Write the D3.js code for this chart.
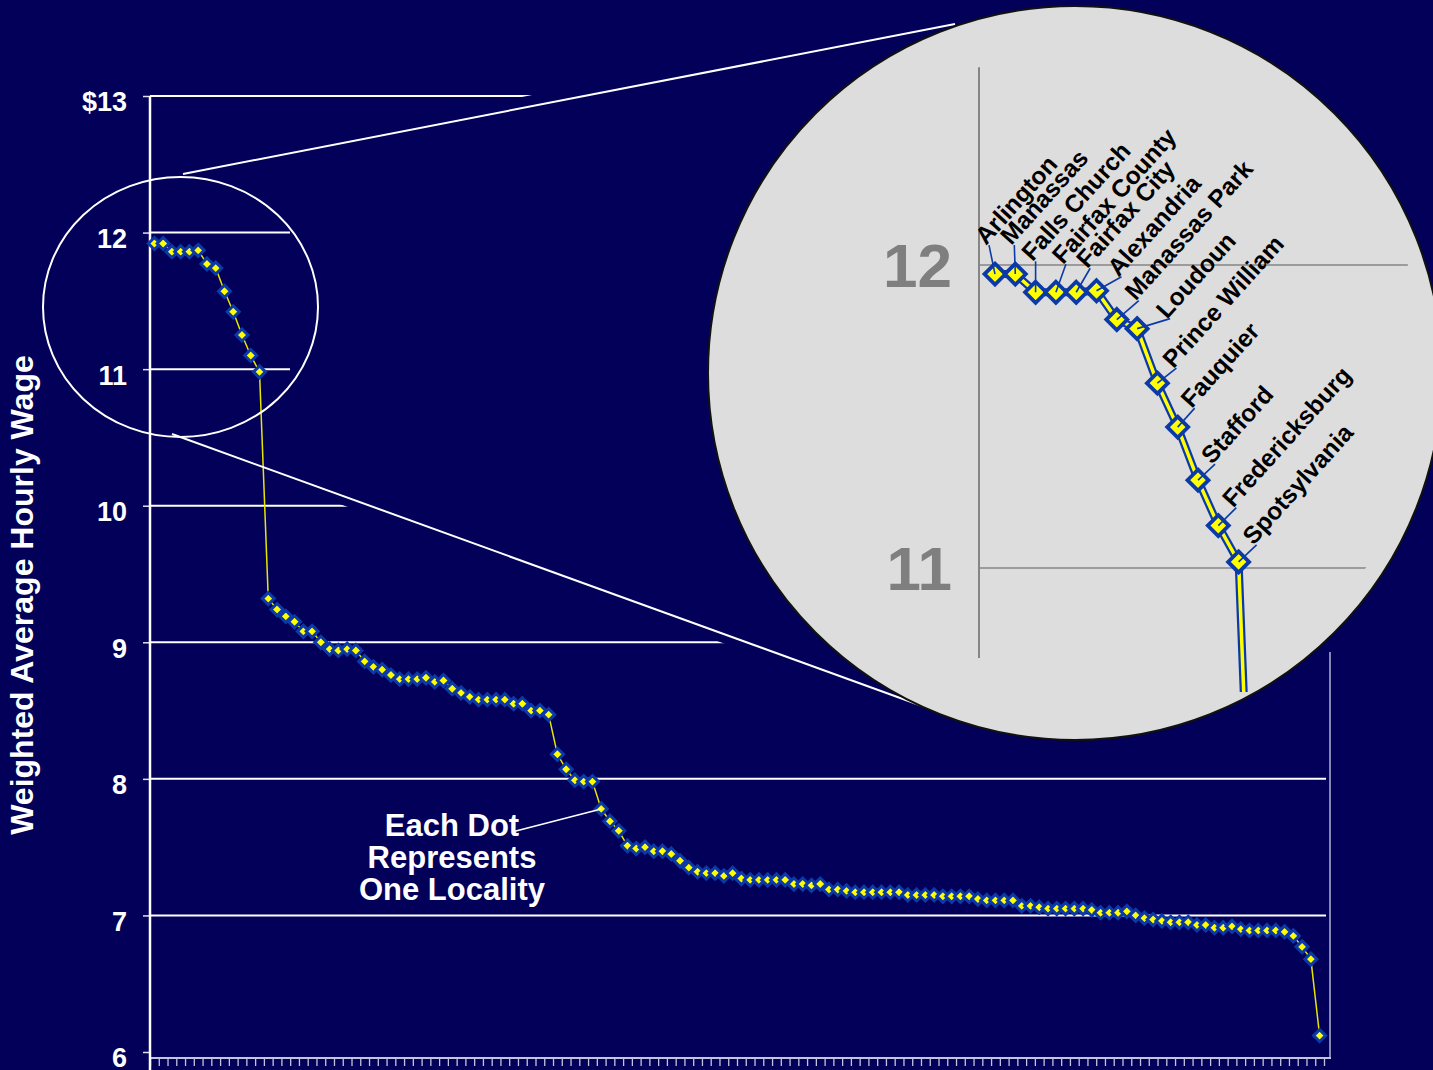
<!DOCTYPE html>
<html>
<head>
<meta charset="utf-8">
<script src="https://cdn.jsdelivr.net/npm/d3@7"></script>
<style>
  html, body { margin: 0; padding: 0; background: #020058; }
  svg { display: block; }
  text { font-family: "Liberation Sans", Arial, Helvetica, sans-serif; font-weight: bold; }
</style>
</head>
<body>
<svg id="chart"></svg>
<script>
// weighted average hourly wage, one value per locality, sorted high to low
const wages = [
  11.92, 11.92, 11.86, 11.86, 11.86, 11.87, 11.77, 11.74, 11.57, 11.42,
  11.25, 11.10, 10.98, 9.32, 9.24, 9.19, 9.15, 9.08, 9.08, 9.00,
  8.95, 8.94, 8.95, 8.94, 8.86, 8.82, 8.80, 8.76, 8.73, 8.73,
  8.73, 8.74, 8.71, 8.72, 8.66, 8.63, 8.60, 8.58, 8.58, 8.58,
  8.58, 8.55, 8.55, 8.50, 8.50, 8.47, 8.18, 8.07, 7.99, 7.98,
  7.98, 7.78, 7.69, 7.62, 7.51, 7.49, 7.50, 7.47, 7.47, 7.45,
  7.40, 7.35, 7.32, 7.31, 7.31, 7.29, 7.31, 7.27, 7.26, 7.26,
  7.26, 7.26, 7.26, 7.23, 7.23, 7.22, 7.23, 7.19, 7.19, 7.18,
  7.17, 7.17, 7.17, 7.17, 7.17, 7.17, 7.15, 7.15, 7.15, 7.15,
  7.14, 7.14, 7.14, 7.14, 7.12, 7.11, 7.11, 7.11, 7.11, 7.07,
  7.07, 7.06, 7.05, 7.05, 7.05, 7.05, 7.05, 7.04, 7.02, 7.02,
  7.02, 7.03, 7.00, 6.98, 6.97, 6.96, 6.95, 6.95, 6.95, 6.93,
  6.93, 6.91, 6.91, 6.92, 6.90, 6.89, 6.89, 6.89, 6.89, 6.88,
  6.85, 6.77, 6.68, 6.12
];
const yTicks = [6, 7, 8, 9, 10, 11, 12, 13];

// magnified view of the top localities
const insetNames = ['Arlington', 'Manassas', 'Falls Church', 'Fairfax County', 'Fairfax City',
  'Alexandria', 'Manassas Park', 'Loudoun', 'Prince William', 'Fauquier', 'Stafford',
  'Fredericksburg', 'Spotsylvania'];
const insetWages = [11.97, 11.97, 11.91, 11.91, 11.91, 11.915, 11.82, 11.79, 11.61, 11.465,
  11.29, 11.14, 11.02];
const insetTicks = [11, 12];
// where each leader line ends, relative to its marker
const labelNudges = [[-6, -29], [-1, -29], [0, -31], [10, -28], [14, -24], [25, -14], [22, -19],
  [33, -10], [19, -15], [17, -19], [17, -16], [18, -18], [18, -17]];

const note = ['Each Dot', 'Represents', 'One Locality'];

const W = 1433, H = 1070;
const bg = '#020058';
const markBlue = '#0b3aa8';
const diamond = r => `M0,${-r}L${r},0L0,${r}L${-r},0Z`;

const svg = d3.select('#chart').attr('width', W).attr('height', H);
svg.append('rect').attr('width', W).attr('height', H).attr('fill', bg);

const x = d3.scaleBand().domain(d3.range(wages.length)).range([150, 1324]);
const xTicks = d3.scaleLinear().domain([0, wages.length]).range([150, 1324]);
const y = d3.scaleLinear().domain([6, 13]).range([1052, 96]);
const cx = i => x(i) + x.bandwidth() / 2;

// gridlines
svg.append('g').selectAll('line')
  .data(yTicks.filter(d => d > 6))
  .join('line')
  .attr('x1', 150).attr('x2', 1326)
  .attr('y1', d => y(d)).attr('y2', d => y(d))
  .attr('stroke', '#fff').attr('stroke-width', 2);

// right edge of plot area
svg.append('line')
  .attr('x1', 1330).attr('x2', 1330).attr('y1', y(13)).attr('y2', 1058)
  .attr('stroke', '#b4b4d4').attr('stroke-width', 1.5);

// background coloured wedge behind the zoom connectors
svg.append('path')
  .attr('d', 'M290,143L962,10L1433,0L1433,652L1320,652L910,711L290,486Z')
  .attr('fill', bg);

// category axis
const xAxis = svg.append('g')
  .attr('transform', 'translate(0,1058)')
  .call(d3.axisBottom(xTicks).tickValues(d3.range(wages.length + 1)).tickSize(8).tickSizeOuter(0).tickFormat(''));
xAxis.select('.domain').remove();
xAxis.selectAll('.tick line').attr('stroke', '#c4c4e0').attr('stroke-width', 1.3);
svg.append('line')
  .attr('x1', 150).attr('x2', 1331).attr('y1', 1058).attr('y2', 1058)
  .attr('stroke', '#c4c4e0').attr('stroke-width', 2);

// value axis
const yAxis = svg.append('g')
  .attr('transform', 'translate(150,0)')
  .call(d3.axisLeft(y).tickValues(yTicks).tickSize(7).tickSizeOuter(0).tickPadding(16)
    .tickFormat(d => d === 13 ? '$13' : d));
yAxis.select('.domain').remove();
yAxis.selectAll('.tick line').attr('stroke', '#e0e0f0').attr('stroke-width', 1.5);
yAxis.selectAll('.tick text')
  .attr('fill', '#fff').attr('font-size', 27).attr('dy', '0.55em');
svg.append('line')
  .attr('x1', 150).attr('x2', 150).attr('y1', y(13)).attr('y2', 1070)
  .attr('stroke', '#fff').attr('stroke-width', 2.5);

// data
const line = d3.line().x((d, i) => cx(i)).y(d => y(d));
svg.append('path').datum(wages)
  .attr('d', line)
  .attr('fill', 'none').attr('stroke', '#e6e600').attr('stroke-width', 1.5);

svg.append('g').selectAll('path')
  .data(wages)
  .join('path')
  .attr('transform', (d, i) => `translate(${cx(i)},${y(d)})`)
  .attr('d', diamond(6))
  .attr('fill', '#ffff00').attr('stroke', markBlue).attr('stroke-width', 3);

// annotation
svg.append('line')
  .attr('x1', 512).attr('y1', 832).attr('x2', cx(51)).attr('y2', y(wages[51]))
  .attr('stroke', '#fff').attr('stroke-width', 1.6);
svg.append('text')
  .attr('text-anchor', 'middle').attr('fill', '#fff').attr('font-size', 31)
  .selectAll('tspan')
  .data(note)
  .join('tspan')
  .attr('x', 452).attr('y', (d, i) => 836 + i * 32)
  .text(d => d);

svg.append('text')
  .attr('transform', 'translate(33,595) rotate(-90)')
  .attr('text-anchor', 'middle').attr('fill', '#fff').attr('font-size', 32)
  .text('Weighted Average Hourly Wage');

// zoom marker circle and connectors
svg.append('ellipse')
  .attr('cx', 180.5).attr('cy', 307).attr('rx', 137.5).attr('ry', 130)
  .attr('fill', 'none').attr('stroke', '#fff').attr('stroke-width', 2);
svg.append('line').attr('x1', 183).attr('y1', 174).attr('x2', 955).attr('y2', 24)
  .attr('stroke', '#fff').attr('stroke-width', 2);
svg.append('line').attr('x1', 172).attr('y1', 434).attr('x2', 925).attr('y2', 707)
  .attr('stroke', '#fff').attr('stroke-width', 2);

// magnified inset
const C = {x: 1075, y: 373, r: 367};
svg.append('circle')
  .attr('cx', C.x).attr('cy', C.y).attr('r', C.r)
  .attr('fill', '#dddddd').attr('stroke', '#111').attr('stroke-width', 2);

const defs = svg.append('defs');
defs.append('clipPath').attr('id', 'inset-clip')
  .append('circle').attr('cx', C.x).attr('cy', C.y).attr('r', 350);
defs.append('clipPath').attr('id', 'inset-data-clip')
  .append('rect').attr('x', 900).attr('y', 0).attr('width', 533).attr('height', 692);

const ix = d3.scalePoint().domain(d3.range(insetWages.length + 1)).range([995, 995 + 13 * 20.3]);
const iy = d3.scaleLinear().domain([11, 12]).range([568, 265]);
const inset = svg.append('g');

inset.append('g').attr('clip-path', 'url(#inset-clip)')
  .selectAll('line')
  .data(insetTicks)
  .join('line')
  .attr('x1', 979).attr('x2', 1433)
  .attr('y1', d => iy(d)).attr('y2', d => iy(d))
  .attr('stroke', '#858585').attr('stroke-width', 1.6);
inset.append('line')
  .attr('x1', 979).attr('x2', 979).attr('y1', iy(12.653)).attr('y2', iy(10.703))
  .attr('stroke', '#858585').attr('stroke-width', 2);
inset.selectAll('text.big')
  .data(insetTicks)
  .join('text')
  .attr('class', 'big')
  .attr('x', 952).attr('y', d => iy(d)).attr('dy', '0.35em')
  .attr('text-anchor', 'end').attr('fill', '#7f7f7f').attr('font-size', 62)
  .text(d => d);

// line runs on toward the next locality, cut off by the inset frame
const insetSeries = insetWages.concat([wages[insetWages.length]]);
const iline = d3.line().x((d, i) => ix(i)).y(d => iy(d));
const dataG = inset.append('g').attr('clip-path', 'url(#inset-data-clip)');
dataG.append('path').datum(insetSeries).attr('d', iline)
  .attr('fill', 'none').attr('stroke', markBlue).attr('stroke-width', 8);
dataG.append('path').datum(insetSeries).attr('d', iline)
  .attr('fill', 'none').attr('stroke', '#ffff00').attr('stroke-width', 3.5);

inset.append('g').selectAll('path')
  .data(insetWages)
  .join('path')
  .attr('transform', (d, i) => `translate(${ix(i)},${iy(d)})`)
  .attr('d', diamond(10.5))
  .attr('fill', '#ffff00').attr('stroke', markBlue).attr('stroke-width', 3.8);

inset.append('g').selectAll('line')
  .data(insetWages)
  .join('line')
  .attr('x1', (d, i) => ix(i)).attr('y1', d => iy(d))
  .attr('x2', (d, i) => ix(i) + labelNudges[i][0]).attr('y2', (d, i) => iy(d) + labelNudges[i][1])
  .attr('stroke', markBlue).attr('stroke-width', 1.6);

inset.append('g').selectAll('text')
  .data(insetWages)
  .join('text')
  .attr('transform', (d, i) =>
    `translate(${ix(i) + labelNudges[i][0] - 3},${iy(d) + labelNudges[i][1] + 1}) rotate(-48)`)
  .attr('fill', '#000').attr('font-size', 24.5)
  .text((d, i) => insetNames[i]);
</script>
</body>
</html>
